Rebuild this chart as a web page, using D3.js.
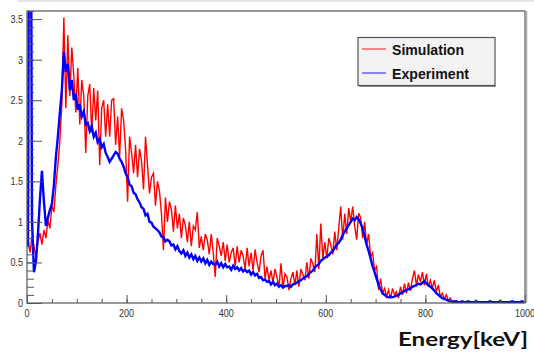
<!DOCTYPE html>
<html><head><meta charset="utf-8">
<script src="https://cdn.jsdelivr.net/npm/d3@7"></script>
<style>body{margin:0;background:#fff;} svg{display:block;}</style>
</head><body>
<svg id="c" width="534" height="353"></svg>
<script>
// bin width in keV; value i is at bin centre (i + 0.5) * binWidth
const binWidth = 4;
const simulation = [
  0.78,0.62,0.82,0.70,0.58,0.76,0.86,0.72,0.90,0.80,
  1.02,0.92,1.20,1.12,1.45,1.70,2.00,2.45,3.52,2.40,
  3.30,2.55,3.15,2.80,2.35,2.90,2.20,2.75,2.55,1.85,
  2.55,2.70,2.10,2.65,2.25,2.62,1.70,2.40,2.50,2.05,
  2.45,2.05,2.50,2.52,1.95,2.30,1.80,2.40,2.25,1.90,
  1.25,2.05,1.85,1.60,1.95,1.55,1.90,1.75,1.40,2.05,
  1.70,1.35,1.55,1.60,1.20,1.50,1.38,1.10,0.65,1.30,
  1.00,1.25,1.15,0.88,1.20,0.92,1.10,0.80,1.05,0.95,
  0.75,1.00,0.70,0.95,0.90,1.12,0.68,0.82,0.65,0.85,
  0.78,0.60,0.85,0.62,0.32,0.80,0.70,0.58,0.75,0.52,
  0.72,0.50,0.62,0.68,0.45,0.70,0.50,0.65,0.58,0.42,
  0.68,0.45,0.62,0.40,0.66,0.50,0.38,0.58,0.65,0.30,
  0.45,0.28,0.40,0.25,0.42,0.32,0.20,0.49,0.18,0.36,
  0.32,0.16,0.30,0.38,0.22,0.40,0.20,0.42,0.35,0.28,
  0.50,0.30,0.55,0.48,0.38,0.85,0.42,0.98,0.55,0.75,
  0.55,0.80,0.72,0.60,0.88,0.65,0.92,1.19,0.78,1.10,
  0.85,1.17,1.00,1.19,0.95,0.78,1.11,1.05,0.80,1.00,
  0.72,0.85,0.57,0.62,0.40,0.45,0.16,0.30,0.12,0.18,
  0.08,0.16,0.05,0.18,0.10,0.14,0.06,0.20,0.10,0.24,
  0.12,0.25,0.15,0.30,0.40,0.22,0.35,0.26,0.38,0.22,
  0.36,0.20,0.28,0.18,0.28,0.14,0.22,0.08,0.12,0.05,
  0.10,0.03,0.06,0.01,0.03,0.00,0.00,0.00,0.00,0.00
];
const experiment = [
  0.70,9.00,1.02,0.38,0.52,0.85,1.28,1.63,1.25,0.95,
  1.05,1.15,1.22,1.45,1.80,2.05,2.35,2.62,3.10,2.85,
  2.95,2.62,2.75,2.50,2.58,2.38,2.45,2.30,2.36,2.20,
  2.22,2.12,2.18,2.05,2.10,1.98,2.02,1.92,1.96,1.85,
  1.80,1.74,1.78,1.82,1.86,1.84,1.78,1.74,1.68,1.60,
  1.55,1.46,1.44,1.36,1.34,1.28,1.24,1.18,1.16,1.08,
  1.10,1.00,0.99,0.94,0.92,0.90,0.87,0.82,0.81,0.76,
  0.78,0.76,0.71,0.72,0.66,0.70,0.64,0.61,0.65,0.58,
  0.62,0.56,0.60,0.54,0.58,0.52,0.56,0.51,0.55,0.49,
  0.53,0.47,0.51,0.48,0.47,0.51,0.45,0.49,0.44,0.48,
  0.44,0.45,0.41,0.46,0.42,0.44,0.40,0.43,0.39,0.41,
  0.38,0.40,0.35,0.38,0.34,0.36,0.31,0.32,0.28,0.29,
  0.26,0.27,0.23,0.26,0.22,0.24,0.20,0.22,0.19,0.21,
  0.21,0.22,0.20,0.23,0.24,0.25,0.27,0.28,0.30,0.32,
  0.33,0.36,0.38,0.40,0.44,0.46,0.48,0.52,0.54,0.56,
  0.57,0.59,0.62,0.64,0.68,0.72,0.74,0.78,0.84,0.88,
  0.92,0.96,1.00,1.04,1.02,1.06,1.03,0.98,0.92,0.82,
  0.72,0.64,0.55,0.45,0.38,0.30,0.22,0.17,0.12,0.10,
  0.08,0.07,0.08,0.07,0.08,0.09,0.10,0.12,0.13,0.15,
  0.16,0.17,0.18,0.20,0.21,0.22,0.24,0.23,0.25,0.27,
  0.24,0.22,0.20,0.18,0.15,0.12,0.10,0.08,0.06,0.05,
  0.04,0.03,0.02,0.02,0.01,0.02,0.01,0.01,0.02,0.01,
  0.01,0.02,0.01,0.01,0.01,0.02,0.01,0.01,0.01,0.01,
  0.01,0.01,0.02,0.01,0.01,0.01,0.01,0.02,0.01,0.01,
  0.01,0.01,0.01,0.02,0.01,0.01,0.01,0.01,0.02,0.01
];
const xTickLabels = [0, 200, 400, 600, 800, 1000];
const yTickLabels = [0, 0.5, 1, 1.5, 2, 2.5, 3, 3.5];
const seriesNames = ["Simulation", "Experiment"];
const seriesColors = ["#ff0000", "#0000ff"];
const xTitle = "Energy[keV]";

const svg = d3.select("#c");
const L = 27, R = 525, T = 11, B = 303;
const x = d3.scaleLinear().domain([0, 1000]).range([L, R]);
const y = d3.scaleLinear().domain([0, 3.6]).range([B, T]);

svg.append("rect").attr("x", 17).attr("y", 0).attr("width", 517).attr("height", 2).attr("fill", "#e6e6e6");

svg.append("defs").append("clipPath").attr("id", "clip")
  .append("rect").attr("x", L).attr("y", T).attr("width", R - L).attr("height", B - T);

const line = d3.line().x((d, i) => x((i + 0.5) * binWidth)).y(d => y(d));
const g = svg.append("g").attr("clip-path", "url(#clip)");
g.append("path").attr("d", line(simulation)).attr("fill", "none")
  .attr("stroke", seriesColors[0]).attr("stroke-width", 1.4);
g.append("path").attr("d", line(experiment)).attr("fill", "none")
  .attr("stroke", seriesColors[1]).attr("stroke-width", 2.4);

const tickColor = "#555";
const xMinor = d3.range(0, 1001, 50);
const xa = svg.append("g").attr("transform", `translate(0,${B})`);
xa.call(d3.axisBottom(x).tickValues(xMinor).tickSize(-4).tickFormat(""));
xa.append("g").call(d3.axisBottom(x).tickValues(xTickLabels).tickSize(-8).tickFormat(""));
xa.selectAll(".domain").remove();
xa.selectAll("line").attr("stroke", tickColor);

const yMinor = d3.range(0, 3.61, 0.1);
const ya = svg.append("g").attr("transform", `translate(${L},0)`);
ya.call(d3.axisLeft(y).tickValues(yMinor).tickSize(-7).tickFormat(""));
ya.append("g").call(d3.axisLeft(y).tickValues(yTickLabels).tickSize(-15).tickFormat(""));
ya.selectAll(".domain").remove();
ya.selectAll("line").attr("stroke", tickColor);

svg.append("rect").attr("x", L).attr("y", T).attr("width", R - L).attr("height", B - T)
  .attr("fill", "none").attr("stroke", "#555").attr("stroke-width", 1.2);
svg.append("line").attr("x1", R + 1.5).attr("x2", R + 1.5).attr("y1", T).attr("y2", B)
  .attr("stroke", "#aaa").attr("stroke-width", 1.5);

const fmt = d => String(d);
svg.append("g").selectAll("text").data(xTickLabels).join("text")
  .attr("transform", d => `translate(${x(d)},317) scale(0.82,1)`)
  .attr("text-anchor", "middle").attr("font-family", "Liberation Sans, Arial, sans-serif")
  .attr("font-size", 11).attr("fill", "#333").text(fmt);
svg.append("g").selectAll("text").data(yTickLabels).join("text")
  .attr("transform", d => `translate(23,${y(d) + 4}) scale(0.82,1)`)
  .attr("text-anchor", "end").attr("font-family", "Liberation Sans, Arial, sans-serif")
  .attr("font-size", 11).attr("fill", "#333").text(fmt);

const lg = svg.append("g");
lg.append("rect").attr("x", 358).attr("y", 37.5).attr("width", 137).attr("height", 48)
  .attr("fill", "#f2f2f2").attr("stroke", "#555").attr("stroke-width", 1.2);
lg.append("line").attr("x1", 359).attr("x2", 496).attr("y1", 86.5).attr("y2", 86.5).attr("stroke", "#888").attr("stroke-width", 1);
const lw = [72, 77];
seriesNames.forEach((n, i) => {
  const yy = 49 + i * 24;
  lg.append("line").attr("x1", 362).attr("x2", 386).attr("y1", yy).attr("y2", yy)
    .attr("stroke", seriesColors[i]).attr("stroke-width", 1.3).attr("opacity", 0.7);
  lg.append("text").attr("x", 392).attr("y", yy + 6).attr("font-family", "Liberation Sans, Arial, sans-serif")
    .attr("font-weight", "bold").attr("font-size", 15).attr("fill", "#111")
    .attr("textLength", lw[i]).attr("lengthAdjust", "spacingAndGlyphs").text(n);
});

svg.append("text").attr("x", 398).attr("y", 346).attr("font-family", "Lato, Open Sans, sans-serif")
  .attr("font-weight", "bold").attr("font-size", 19).attr("fill", "#111")
  .attr("textLength", 130).attr("lengthAdjust", "spacingAndGlyphs").text(xTitle);
</script>
</body></html>
